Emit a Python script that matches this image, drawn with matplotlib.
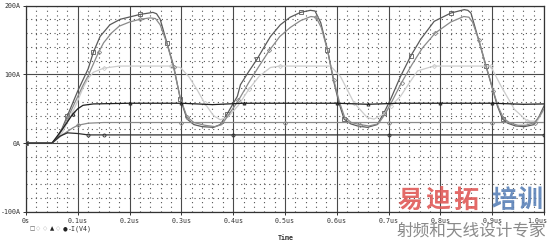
import matplotlib
matplotlib.use("Agg")
import matplotlib.pyplot as plt
import matplotlib.transforms as mtransforms

# ---------------- data (time in us, current in A) ----------------
t_a = [0, 0.05, 0.06, 0.07, 0.08, 0.09, 0.1, 0.11, 0.12, 0.13, 0.143, 0.162, 0.182, 0.22, 0.245,
       0.252, 0.259, 0.272, 0.285, 0.298, 0.311, 0.324, 0.34, 0.362, 0.375, 0.388, 0.398, 0.408,
       0.414, 0.43, 0.446, 0.46, 0.472, 0.491, 0.51, 0.53, 0.549, 0.558, 0.569, 0.582, 0.594,
       0.604, 0.614, 0.627, 0.64, 0.659, 0.678, 0.691, 0.704, 0.723, 0.743, 0.762, 0.788, 0.82,
       0.846, 0.853, 0.859, 0.872, 0.888, 0.901, 0.91, 0.92, 0.93, 0.945, 0.962, 0.981, 0.99, 1.0]
i_a = [0, 0, 8, 22, 40, 58, 76, 92, 108, 132, 155, 172, 180, 187, 190,
       188, 180, 146, 112, 64, 35, 27, 24, 23, 27, 42, 55, 68,
       85, 104, 122, 140, 155, 172, 183, 190, 193, 192, 175, 136, 90,
       59, 35, 28, 25, 23, 27, 44, 64, 97, 127, 151, 177, 189,
       194, 193, 189, 155, 112, 78, 54, 35, 29, 25, 24, 27, 38, 54]

t_b = [0, 0.05, 0.06, 0.07, 0.08, 0.09, 0.1, 0.11, 0.12, 0.13, 0.14, 0.15, 0.165, 0.18, 0.2,
       0.22, 0.24, 0.25, 0.259, 0.272, 0.285, 0.298, 0.311, 0.324, 0.345, 0.365, 0.378, 0.39,
       0.41, 0.43, 0.45, 0.47, 0.49, 0.51, 0.53, 0.55, 0.56, 0.57, 0.582, 0.594, 0.605, 0.615,
       0.628, 0.645, 0.662, 0.68, 0.693, 0.706, 0.725, 0.745, 0.765, 0.79, 0.82, 0.845, 0.855,
       0.862, 0.874, 0.889, 0.902, 0.912, 0.922, 0.935, 0.95, 0.965, 0.982, 0.992, 1.0]
i_b = [0, 0, 7, 20, 36, 52, 68, 84, 98, 115, 132, 146, 160, 170, 176,
       180, 182, 181, 172, 145, 110, 65, 38, 30, 26, 24, 27, 40,
       62, 88, 112, 135, 155, 168, 178, 184, 183, 168, 135, 92, 60, 38,
       30, 27, 25, 28, 42, 60, 88, 114, 138, 160, 176, 184, 183,
       176, 150, 110, 76, 52, 36, 29, 26, 26, 30, 40, 50]

t_c = [0, 0.05, 0.07, 0.09, 0.1, 0.11, 0.12, 0.13, 0.15, 0.18, 0.28, 0.298, 0.315, 0.33, 0.345,
       0.362, 0.375, 0.39, 0.41, 0.43, 0.45, 0.472, 0.49, 0.588, 0.607, 0.633, 0.659, 0.672,
       0.69, 0.704, 0.723, 0.736, 0.756, 0.787, 0.897, 0.917, 0.943, 0.968, 0.987, 1.0]
i_c = [0, 0, 15, 45, 62, 80, 94, 103, 109, 112, 112, 110, 96, 78, 58,
       40, 34, 38, 55, 78, 97, 110, 112, 112, 97, 59, 37, 35,
       42, 54, 68, 83, 105, 112, 112, 83, 49, 32, 32, 49]

t_d = [0, 0.05, 0.07, 0.09, 0.1, 0.11, 0.13, 0.2, 0.3, 0.36, 0.42, 0.5, 0.6, 0.66, 0.72, 0.8,
       0.9, 0.96, 1.0]
i_d = [0, 0, 20, 42, 50, 55, 57, 58, 58, 56, 58, 58, 58, 56.5, 58, 58, 58, 56.5, 57]

t_e = [0, 0.05, 0.07, 0.09, 0.1, 0.12, 0.15, 0.3, 0.5, 0.7, 0.9, 1.0]
i_e = [0, 0, 12, 22, 26, 29, 30, 30, 30, 30, 30, 30]

t_f = [0, 0.05, 0.065, 0.08, 0.1, 0.12, 0.15, 0.4, 0.7, 1.0]
i_f = [0, 0, 10, 15, 14, 12, 12, 12, 12, 12]

x_ticks = [0, 0.1, 0.2, 0.3, 0.4, 0.5, 0.6, 0.7, 0.8, 0.9, 1.0]
x_labels = ["0s", "0.1us", "0.2us", "0.3us", "0.4us", "0.5us", "0.6us", "0.7us", "0.8us", "0.9us", "1.0us"]
y_ticks = [-100, 0, 100, 200]
y_labels = ["-100A", "0A", "100A", "200A"]
legend_syms = ["\u25a1", "\u25c7", "\u25c7", "\u25b2", "\u25c7", "\u25cf"]
trace_name = "-I(V4)"

# ---------------- figure ----------------
W, H = 550, 241
fig = plt.figure(figsize=(W / 100, H / 100), dpi=100)
fig.patch.set_facecolor("white")
ax = fig.add_axes([26 / W, 1 - 212 / H, 518 / W, 206.5 / H])
ax.set_xlim(0, 1.0)
ax.set_ylim(-100, 200)

ax.set_xticks(x_ticks)
ax.set_xticklabels(x_labels)
ax.set_xticks([k * 0.02 for k in range(51)], minor=True)
ax.set_yticks(y_ticks)
ax.set_yticklabels(y_labels)
ax.set_yticks([k * 20 for k in range(-5, 11)], minor=True)

ax.grid(which="major", color="#4a4a4a", lw=0.8, ls="-")
ax.grid(which="minor", color="#555555", lw=0.8, ls=(0, (1, 3.2)))
ax.set_axisbelow(True)
for s in ax.spines.values():
    s.set_color("#333333")
    s.set_linewidth(0.9)

mono = "DejaVu Sans Mono"
ax.tick_params(which="major", length=2, width=0.7, color="#333333", pad=2,
               labelsize=4.8, labelcolor="#333333")
ax.tick_params(which="minor", length=0)
for lab in ax.get_xticklabels() + ax.get_yticklabels():
    lab.set_fontfamily(mono)
ax.tick_params(axis="x", pad=2)
last = ax.get_xticklabels()[-1]
last.set_transform(last.get_transform() +
                   mtransforms.ScaledTranslation(-7 / 100, 0, fig.dpi_scale_trans))

colors = ["#5a5a5a", "#cccccc", "#8a8a8a", "#1e1e1e", "#8a8a8a", "#2e2e2e"]
markers = ["s", "D", "D", "^", "D", "o"]
series = [(t_a, i_a), (t_c, i_c), (t_b, i_b), (t_d, i_d), (t_e, i_e), (t_f, i_f)]
for (tt, ii), c, m in zip(series, colors, markers):
    ax.plot(tt, ii, color=c, lw=0.9, marker=m, markersize=2.2, markevery=0.11,
            markerfacecolor="none", markeredgewidth=0.6, zorder=3)

# legend row
lx = [31.7, 38.3, 45, 51.7, 58.3, 65]
leg_cols = ["#555555", "#b0b0b0", "#b0b0b0", "#222222", "#b0b0b0", "#222222"]
for x, s, c in zip(lx, legend_syms, leg_cols):
    fig.text(x / W, 1 - 229 / H, s, fontsize=4, color=c, ha="center", va="center",
             family=["DejaVu Sans"])
fig.text(68 / W, 1 - 229 / H, trace_name, fontsize=4.8, color="#333333",
         ha="left", va="center", family=mono)
fig.text(286 / W, 1 - 237.5 / H, "Time", fontsize=4.8, color="#333333",
         ha="center", va="center", family=mono, weight="bold")

# watermark
cjk = ["Noto Sans CJK SC", "DejaVu Sans"]
wm_chars = ["易", "迪", "拓", "培", "训"]
wm_x = [410, 438, 466, 504, 530]
wm_cols = ["#e05a58", "#e05a58", "#e05a58", "#5b82b8", "#5b82b8"]
for ch, x, c in zip(wm_chars, wm_x, wm_cols):
    fig.text(x / W, 1 - 201 / H, ch, fontsize=18, color=c, alpha=0.9,
             ha="center", va="center", family=cjk, weight="black")
fig.text(471 / W, 1 - 231 / H, "射频和天线设计专家", fontsize=12, color="#8a8a8a",
         ha="center", va="center", family=cjk)

fig.savefig("out.png", dpi=100)
